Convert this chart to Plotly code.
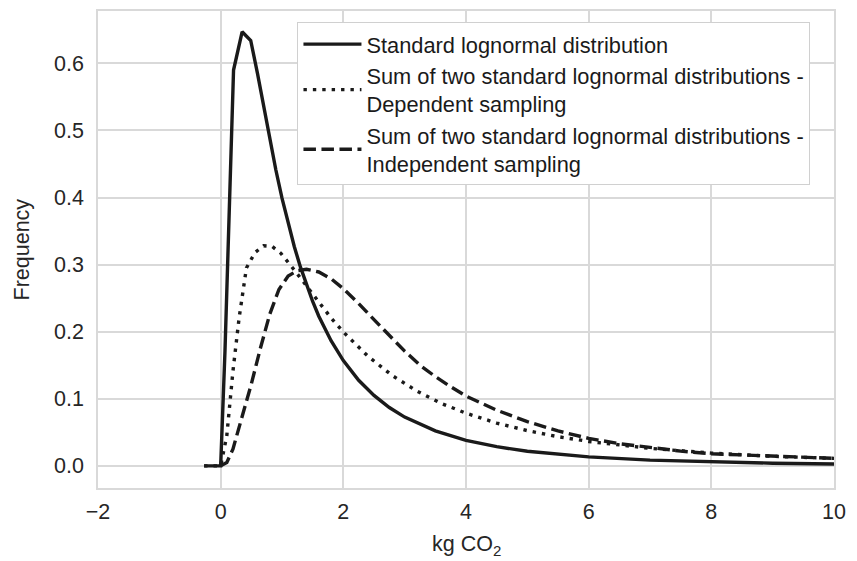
import plotly.graph_objects as go

# Standard lognormal distribution
solid_x = [-0.27, 0.0, 0.07, 0.14, 0.21, 0.35, 0.49, 0.6, 0.7, 0.8, 0.9, 1.0, 1.1, 1.2, 1.3,
           1.4, 1.5, 1.6, 1.8, 2.0, 2.25, 2.5, 2.75, 3.0, 3.5, 4.0, 4.5, 5.0, 5.5, 6.0,
           7.0, 8.0, 9.0, 10.0, 10.5]
solid_y = [0.0, 0.0, 0.17, 0.40, 0.59, 0.647, 0.634, 0.585, 0.535, 0.487, 0.441, 0.399, 0.361,
           0.327, 0.2965, 0.269, 0.245, 0.223, 0.1865, 0.157, 0.1276, 0.105, 0.087, 0.0727,
           0.0521, 0.038, 0.0286, 0.0218, 0.017, 0.0134, 0.0086, 0.0057, 0.004, 0.0028, 0.0024]

# Sum of two lognormals - dependent sampling
dep_x = [-0.27, 0.0, 0.1, 0.2, 0.3, 0.42, 0.56, 0.7, 0.84, 0.98, 1.2, 1.4, 1.6, 1.8, 2.0,
         2.4, 2.8, 3.2, 3.6, 4.0, 4.5, 5.0, 5.5, 6.0, 7.0, 8.0, 9.0, 10.0, 10.5]
dep_y = [0.0, 0.0, 0.045, 0.141, 0.22, 0.295, 0.318, 0.328, 0.327, 0.317, 0.292, 0.2675,
         0.2435, 0.2205, 0.1995, 0.1635, 0.1345, 0.1115, 0.093, 0.0785, 0.0638, 0.0525,
         0.0435, 0.0364, 0.0261, 0.019, 0.0143, 0.0109, 0.0096]

# Sum of two lognormals - independent sampling
ind_x = [0.0, 0.1, 0.2, 0.35, 0.5, 0.65, 0.8, 0.95, 1.1, 1.25, 1.4, 1.6, 1.8, 2.0, 2.25,
         2.5, 2.75, 3.0, 3.25, 3.5, 3.75, 4.0, 4.5, 5.0, 5.5, 6.0, 6.5, 7.0, 7.5, 8.0,
         9.0, 10.0, 10.5]
ind_y = [0.0, 0.005, 0.025, 0.074, 0.122, 0.176, 0.226, 0.263, 0.283, 0.291, 0.293, 0.289,
         0.279, 0.264, 0.242, 0.218, 0.194, 0.171, 0.150, 0.133, 0.118, 0.104, 0.083, 0.066,
         0.052, 0.041, 0.033, 0.027, 0.022, 0.018, 0.014, 0.011, 0.0095]

names = ["Standard lognormal distribution",
         "Sum of two standard lognormal distributions -<br>Dependent sampling",
         "Sum of two standard lognormal distributions -<br>Independent sampling"]

x_ticks = [-2, 0, 2, 4, 6, 8, 10]
x_tick_text = ["\u22122", "0", "2", "4", "6", "8", "10"]
y_ticks = [0.0, 0.1, 0.2, 0.3, 0.4, 0.5, 0.6]
x_title = "kg CO<sub>2</sub>"
y_title = "Frequency"

LINE = "#1a1a1a"
GRID = "#d9d9d9"
FONT = "Liberation Sans, Arial, sans-serif"
FS = 21.5

fig = go.Figure()
fig.add_trace(go.Scatter(x=solid_x, y=solid_y, mode="lines", name=names[0], legendgroup="a",
                         line=dict(color=LINE, width=3.4)))
fig.add_trace(go.Scatter(x=dep_x, y=dep_y, mode="lines", name=names[1], legendgroup="b",
                         line=dict(color=LINE, width=3.4, dash="3.4px,6px")))
fig.add_trace(go.Scatter(x=ind_x, y=ind_y, mode="lines", name=names[2], legendgroup="c",
                         line=dict(color=LINE, width=3.4, dash="12.5px,5.5px")))

# the page body adds an 8px offset, so the figure is 849x553 placed at (8, 8)
fig.update_layout(
    width=849, height=553,
    margin=dict(l=90, r=23, t=3, b=73, autoexpand=False),
    paper_bgcolor="white", plot_bgcolor="white",
    font=dict(family=FONT, size=FS, color="#262626"),
    showlegend=True,
    legend=dict(x=0.271, y=0.976, xanchor="left", yanchor="top",
                bgcolor="white", bordercolor="#d0d0d0", borderwidth=1,
                font=dict(size=21.8, color="#1a1a1a"), traceorder="grouped",
                tracegroupgap=0, itemwidth=58),
    annotations=[
        dict(text=y_title, xref="paper", yref="paper", x=-0.1033, y=0.5,
             xanchor="center", yanchor="middle", textangle=-90, showarrow=False,
             font=dict(size=FS, color="#262626")),
        dict(text=x_title, xref="paper", yref="paper", x=0.5, y=-0.1195,
             xanchor="center", yanchor="middle", showarrow=False,
             font=dict(size=FS, color="#262626")),
    ],
)
fig.update_xaxes(range=[-2, 10], tickvals=x_ticks, ticktext=x_tick_text, automargin=False,
                 showgrid=True, gridcolor=GRID, gridwidth=1.6,
                 showline=True, linecolor=GRID, linewidth=1.6, mirror=True,
                 zeroline=False, ticks="outside", ticklen=3, tickcolor="rgba(0,0,0,0)")
fig.update_yaxes(range=[-0.033, 0.678], tickvals=y_ticks, tickformat=".1f", automargin=False,
                 showgrid=True, gridcolor=GRID, gridwidth=1.6,
                 showline=True, linecolor=GRID, linewidth=1.6, mirror=True,
                 zeroline=False, ticks="outside", ticklen=8, tickcolor="rgba(0,0,0,0)")

fig.write_html("out.html")
